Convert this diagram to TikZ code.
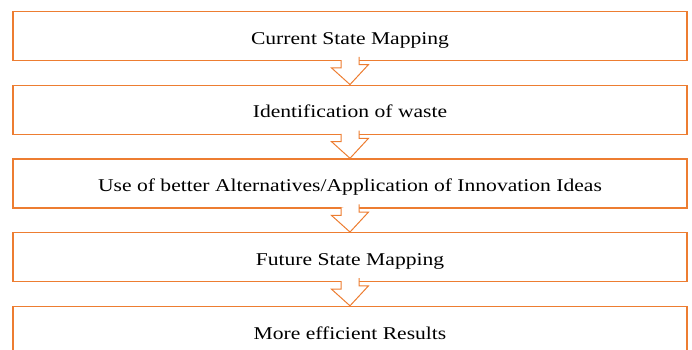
\documentclass[tikz,border=0pt]{standalone}
\usepackage{fontspec}
\setmainfont{Liberation Serif}[FakeStretch=1.2]
\definecolor{stageorange}{HTML}{ED7D31}

\begin{document}
\begin{tikzpicture}[
  x=1pt, y=1pt,
  stage/.style={rectangle, draw=stageorange, line width=1.4pt, minimum width=674pt, minimum height=49pt, inner sep=0pt, text height=16pt, text depth=0pt, font=\fontsize{18}{20}\selectfont},
  hollow/.style={draw=stageorange, line width=1pt, fill=white, line join=miter},
  node distance=73.75pt
]
\useasboundingbox (0,0) rectangle (692,-349);
\node[stage] (cur) at (350,-36) {Current State Mapping};
\node[stage, below of=cur] (waste) {Identification of waste};
\node[stage, below of=waste] (alt) {Use of better Alternatives/Application of Innovation Ideas};
\node[stage, below of=alt] (fut) {Future State Mapping};
\node[stage, below of=fut] (res) {More efficient Results};

\foreach \src/\dst in {cur/waste, waste/alt, alt/fut, fut/res}
  \draw[hollow] (\src.south) ++(-9,1) -- ++(0,-7.7) -- ++(-9.5,0) -- (\dst.north) -- ++(18.5,20) -- ++(-9.5,0) -- ++(0,7.7);
\end{tikzpicture}
\end{document}
